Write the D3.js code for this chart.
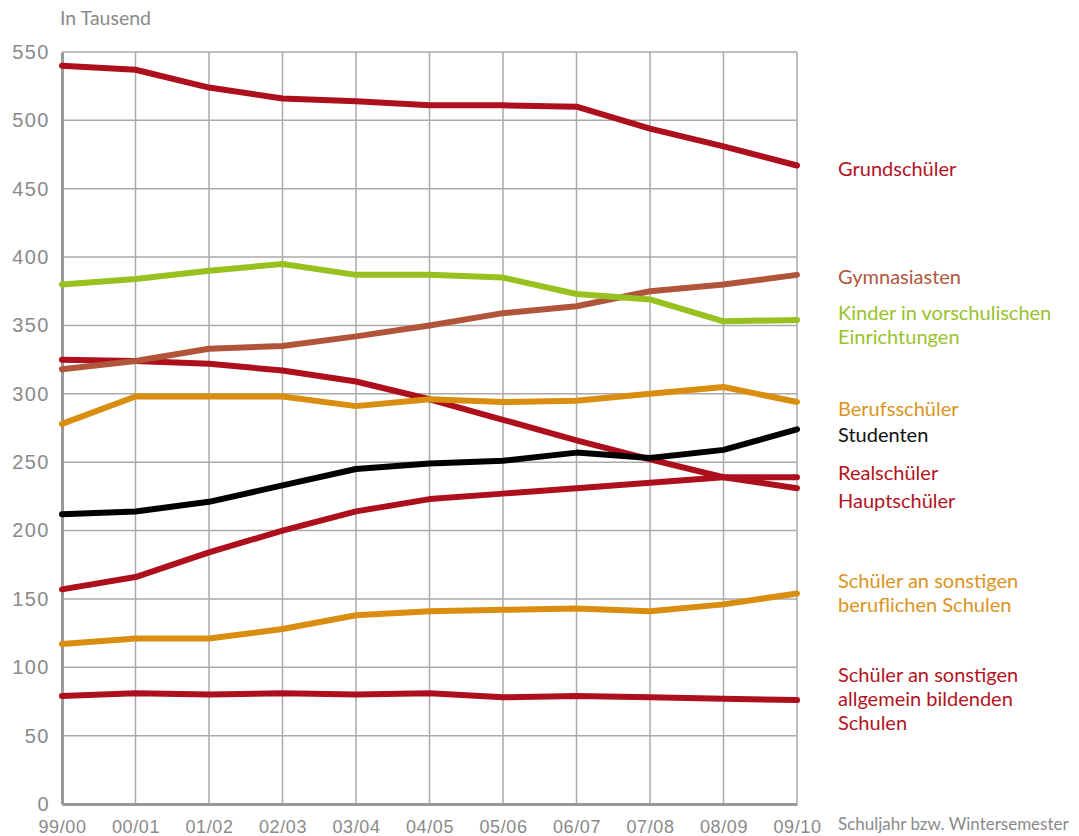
<!DOCTYPE html>
<html>
<head>
<meta charset="utf-8">
<script src="https://cdn.jsdelivr.net/npm/d3@7"></script>
<style>
  html, body { margin: 0; padding: 0; background: #fff; }
  svg { display: block; font-family: "Lato", "Open Sans", sans-serif; }
</style>
</head>
<body>
<svg id="chart" width="1079" height="836"></svg>
<script>
// School years (x axis)
const years = ["99/00","00/01","01/02","02/03","03/04","04/05","05/06","06/07","07/08","08/09","09/10"];
const yTicks = [0,50,100,150,200,250,300,350,400,450,500,550];

// Pupils / students in thousands
const grundschueler   = [540, 537, 524, 516, 514, 511, 511, 510, 494, 481, 467];
const kinderVorschul  = [380, 384, 390, 395, 387, 387, 385, 373, 369, 353, 354];
const gymnasiasten    = [318, 324, 333, 335, 342, 350, 359, 364, 375, 380, 387];
const berufsschueler  = [278, 298, 298, 298, 291, 296, 294, 295, 300, 305, 294];
const studenten       = [212, 214, 221, 233, 245, 249, 251, 257, 253, 259, 274];
const hauptschueler   = [325, 324, 322, 317, 309, 296, 281, 266, 252, 239, 231];
const realschueler    = [157, 166, 184, 200, 214, 223, 227, 231, 235, 239, 239];
const sonstBeruflich  = [117, 121, 121, 128, 138, 141, 142, 143, 141, 146, 154];
const sonstAllgemein  = [79, 81, 80, 81, 80, 81, 78, 79, 78, 77, 76];

const RED = "#ae0f1d", GREEN = "#96c11f", BROWN = "#b0553a", ORANGE = "#da8e0f", BLACK = "#000000";

const seriesList = [
  { values: sonstAllgemein, color: RED },
  { values: sonstBeruflich, color: ORANGE },
  { values: realschueler,   color: RED },
  { values: hauptschueler,  color: RED },
  { values: studenten,      color: BLACK },
  { values: berufsschueler, color: ORANGE },
  { values: gymnasiasten,   color: BROWN },
  { values: kinderVorschul, color: GREEN },
  { values: grundschueler,  color: RED }
];

// Right-hand labels, one entry per line of text
const labels = [
  { lines: ["Grundschüler"], color: "#b3131f", y: 168 },
  { lines: ["Gymnasiasten"], color: "#b0573d", y: 276 },
  { lines: ["Kinder in vorschulischen", "Einrichtungen"], color: "#98c22a", y: 312 },
  { lines: ["Berufsschüler"], color: "#da941e", y: 408 },
  { lines: ["Studenten"], color: "#111111", y: 434 },
  { lines: ["Realschüler"], color: "#b3131f", y: 472 },
  { lines: ["Hauptschüler"], color: "#b3131f", y: 500 },
  { lines: ["Schüler an sonstigen", "beruflichen Schulen"], color: "#da941e", y: 580 },
  { lines: ["Schüler an sonstigen", "allgemein bildenden", "Schulen"], color: "#b3131f", y: 674 }
];

const svg = d3.select("#chart");
const plotLeft = 62, plotRight = 797, plotTop = 52, plotBottom = 804;

const x = d3.scalePoint().domain(years).range([plotLeft, plotRight]);
const y = d3.scaleLinear().domain([0, 550]).range([plotBottom, plotTop]);

// Grid
const grid = svg.append("g");
grid.selectAll("line.h").data(yTicks.filter(d => d > 0)).join("line")
  .attr("x1", plotLeft).attr("x2", plotRight)
  .attr("y1", d => y(d)).attr("y2", d => y(d))
  .attr("stroke", "#aaaaaa").attr("stroke-width", 1.5);
grid.selectAll("line.v").data(years.slice(1)).join("line")
  .attr("x1", d => x(d)).attr("x2", d => x(d))
  .attr("y1", plotTop).attr("y2", plotBottom)
  .attr("stroke", "#aaaaaa").attr("stroke-width", 1.5);

// Axes
const yAxis = svg.append("g").attr("transform", `translate(${plotLeft},0)`)
  .call(d3.axisLeft(y).tickValues(yTicks).tickSize(0).tickPadding(12));
yAxis.select(".domain").attr("stroke", "#999").attr("stroke-width", 3);
yAxis.selectAll("text").attr("fill", "#8a8a8a").attr("font-size", 20).attr("letter-spacing", 1.5);

const xAxis = svg.append("g").attr("transform", `translate(0,${plotBottom})`)
  .call(d3.axisBottom(x).tickSize(0).tickPadding(16));
xAxis.select(".domain").attr("stroke", "#999").attr("stroke-width", 3);
xAxis.selectAll("text").attr("fill", "#8a8a8a").attr("font-size", 18).attr("letter-spacing", 0.6);

svg.append("text").attr("x", 60).attr("y", 25)
  .attr("fill", "#8a8a8a").attr("font-size", 19.5).text("In Tausend");
svg.append("text").attr("x", 838).attr("y", 830)
  .attr("fill", "#8a8a8a").attr("font-size", 17).text("Schuljahr bzw. Wintersemester");

// Lines
const line = d3.line().x((d, i) => x(years[i])).y(d => y(d));
svg.append("g").selectAll("path").data(seriesList).join("path")
  .attr("d", d => line(d.values))
  .attr("fill", "none")
  .attr("stroke", d => d.color)
  .attr("stroke-width", 6)
  .attr("stroke-linejoin", "round")
  .attr("stroke-linecap", "round");

// Labels
const lg = svg.append("g");
labels.forEach(l => {
  const t = lg.append("text").attr("x", 838).attr("y", l.y)
    .attr("fill", l.color).attr("font-size", 20).attr("dominant-baseline", "central");
  l.lines.forEach((s, i) => {
    t.append("tspan").attr("x", 838).attr("dy", i === 0 ? 0 : 24).text(s);
  });
});
</script>
</body>
</html>
